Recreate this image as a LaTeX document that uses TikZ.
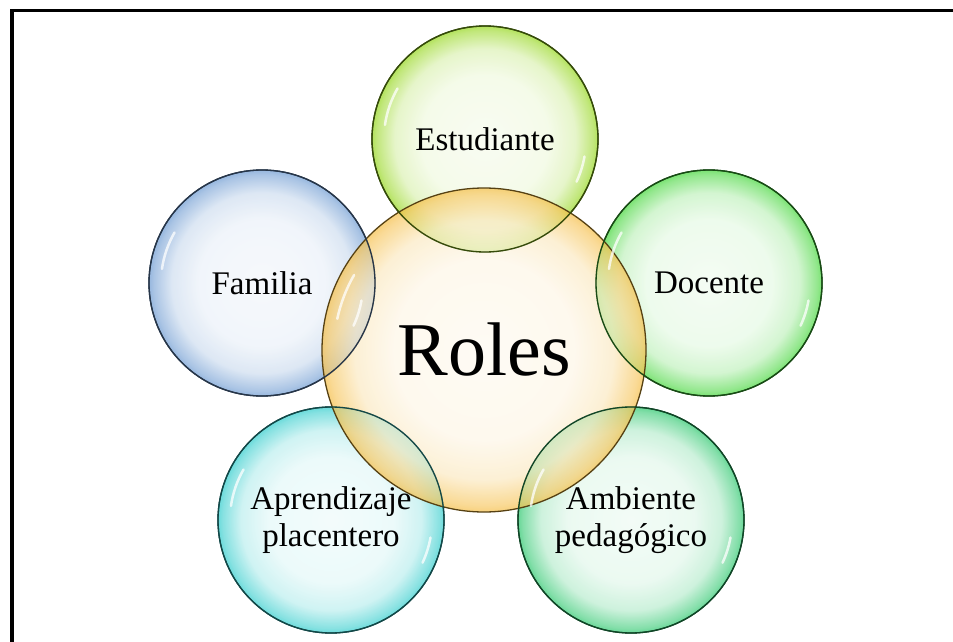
\documentclass[tikz,border=0pt]{standalone}
\usepackage{fontspec}
\usetikzlibrary{calc}
\setmainfont{Liberation Serif}
\definecolor{estC}{RGB}{150,215,30}
\definecolor{famC}{RGB}{110,155,210}
\definecolor{docC}{RGB}{70,215,60}
\definecolor{aprC}{RGB}{50,205,205}
\definecolor{ambC}{RGB}{45,200,110}
\definecolor{rolC}{RGB}{245,185,55}
\newcommand\mkbubble[2]{\pgfdeclareradialshading{#1}{\pgfpoint{0bp}{0bp}}{color(0bp)=(#2!7!white); color(14bp)=(#2!12!white); color(20bp)=(#2!30!white); color(24bp)=(#2!75!white); color(25bp)=(#2!92!white); color(50bp)=(#2!92!white)}}
\mkbubble{shEst}{estC}
\mkbubble{shFam}{famC}
\mkbubble{shDoc}{docC}
\mkbubble{shApr}{aprC}
\mkbubble{shAmb}{ambC}
\mkbubble{shRol}{rolC}
\tikzset{
  bub/.style={circle, inner sep=0pt, minimum size=226pt, shade, fill opacity=0.78, text opacity=1,
    line width=1.3pt, align=center, font=\fontsize{33}{37}\selectfont},
  rim/.style={line width=1.3pt},
  gloss/.style={white, line width=2.5pt, line cap=round, opacity=0.75},
  frame/.style={line width=3.5pt}
}
\begin{document}
\begin{tikzpicture}[x=1pt,y=-1pt]
\useasboundingbox (0,0) rectangle (953,642);
\fill[white] (0,0) rectangle (953,642);
\draw[frame] (12,642) -- (12,10.5) -- (953,10.5);
% satellites
\node[bub, shading=shEst, draw=estC!35!black] (est) at (485,139) {Estudiante};
\node[bub, shading=shFam, draw=famC!35!black] (fam) at (262,283) {Familia};
\node[bub, shading=shDoc, draw=docC!35!black] (doc) at (709,283) {Docente};
\node[bub, shading=shApr, draw=aprC!35!black] (apr) at (331,520) {Aprendizaje\\placentero};
\node[bub, shading=shAmb, draw=ambC!35!black] (amb) at (631,520) {Ambiente\\pedagógico};
% centre
\node[bub, minimum size=324pt, shading=shRol, draw=rolC!35!black, fill opacity=0.7, font=\fontsize{76}{80}\selectfont] (rol) at (484,350) {Roles};
% satellite rims kept visible over the centre
\draw[rim, estC!35!black] (est.center) circle (113);
\draw[rim, famC!35!black] (fam.center) circle (113);
\draw[rim, docC!35!black] (doc.center) circle (113);
\draw[rim, aprC!35!black] (apr.center) circle (113);
\draw[rim, ambC!35!black] (amb.center) circle (113);
% gloss highlights
\foreach \n/\r in {est/113,fam/113,doc/113,apr/113,amb/113}{
  \draw[gloss] ($(\n.center)+(-150:{\r-12})$) arc[start angle=-150, end angle=-172, radius={\r-12}];
  \draw[gloss] ($(\n.center)+(10:{\r-12})$) arc[start angle=10, end angle=25, radius={\r-12}];
}
\draw[gloss] ($(rol.center)+(-150:150)$) arc[start angle=-150, end angle=-168, radius=150];
\end{tikzpicture}
\end{document}
